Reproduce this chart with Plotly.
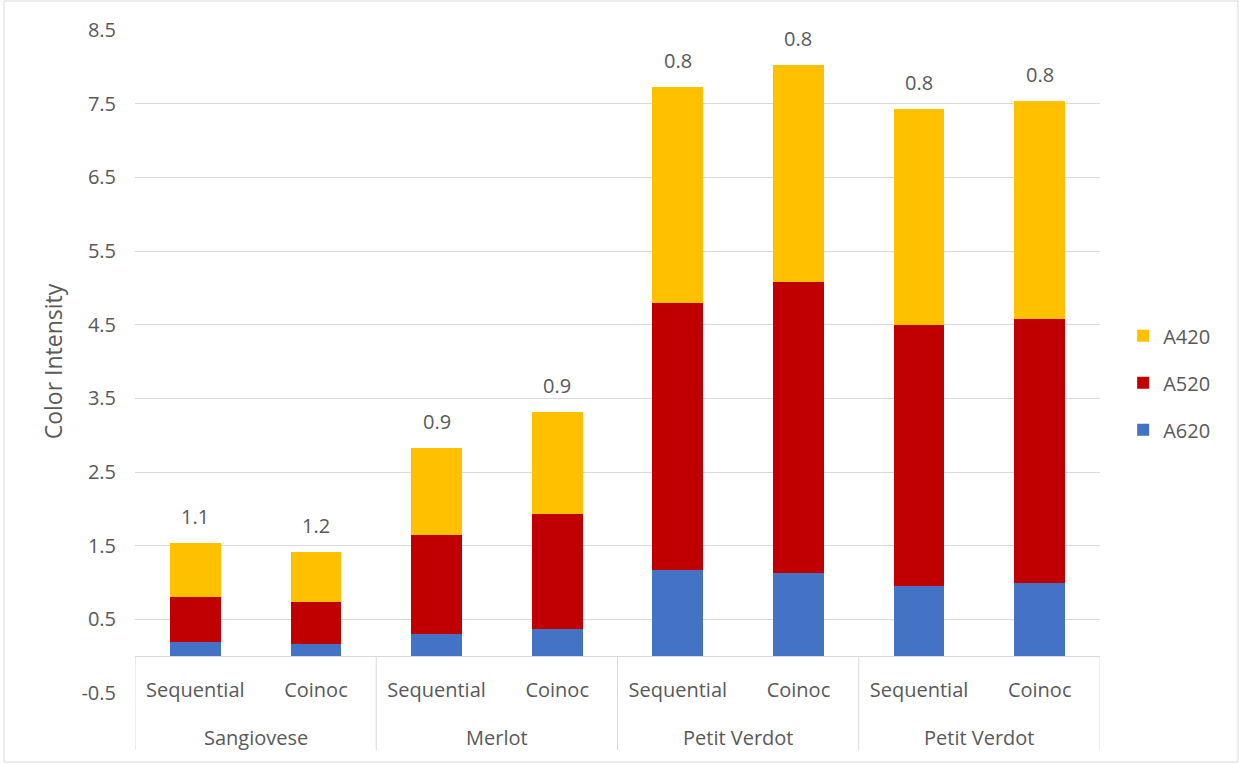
import plotly.graph_objects as go

# Wine varieties and vinification protocols
varieties = ["Sangiovese", "Sangiovese", "Merlot", "Merlot",
             "Petit Verdot", "Petit Verdot", "Petit Verdot", "Petit Verdot"]
protocols = ["Sequential", "Coinoc", "Sequential", "Coinoc",
             "Sequential", "Coinoc", "Sequential", "Coinoc"]
# Group spans along the category axis (variety label, first index, last index)
groups = [("Sangiovese", 0, 1), ("Merlot", 2, 3),
          ("Petit Verdot", 4, 5), ("Petit Verdot", 6, 7)]

# Absorbance components (stacked)
a620 = [0.19, 0.16, 0.30, 0.37, 1.17, 1.13, 0.95, 0.99]
a520 = [0.61, 0.57, 1.34, 1.56, 3.62, 3.95, 3.55, 3.59]
a420 = [0.73, 0.69, 1.19, 1.38, 2.94, 2.94, 2.93, 2.96]

# Hue values printed above each column
hue_labels = ["1.1", "1.2", "0.9", "0.9", "0.8", "0.8", "0.8", "0.8"]

y_ticks = [-0.5, 0.5, 1.5, 2.5, 3.5, 4.5, 5.5, 6.5, 7.5, 8.5]

TEXT = "#595959"
GRID = "#D9D9D9"
FONT = "Open Sans"

xpos = list(range(len(protocols)))
fig = go.Figure()
series = [("A620", a620, "#4472C4", 3),
          ("A520", a520, "#C00000", 2),
          ("A420", a420, "#FFC000", 1)]
for name, vals, color, rank in series:
    fig.add_trace(go.Bar(x=xpos, y=vals, name=name, legendgroup=name,
                         legendrank=rank,
                         marker=dict(color=color, line=dict(width=0))))

totals = [a + b + c for a, b, c in zip(a620, a520, a420)]
for i, (tot, lab) in enumerate(zip(totals, hue_labels)):
    fig.add_annotation(x=i, y=tot, text=lab, showarrow=False,
                       xref="x", yref="y", yanchor="bottom", yshift=11,
                       font=dict(family=FONT, size=20, color=TEXT))

y_lo, y_hi = y_ticks[0], y_ticks[-1]
zero_frac = (0 - y_lo) / (y_hi - y_lo)   # paper height of the category axis line
plot_h = 663

# Variety labels under the protocol labels, with separators between groups
shapes = []
for name, first, last in groups:
    fig.add_annotation(x=(first + last) / 2, y=-44 / plot_h, text=name,
                       showarrow=False, xref="x", yref="paper",
                       yanchor="middle",
                       font=dict(family=FONT, size=20, color=TEXT))
bounds = sorted({g[1] - 0.5 for g in groups} | {g[2] + 0.5 for g in groups})
for b in bounds:
    shapes.append(dict(type="line", xref="x", yref="paper",
                       x0=b, x1=b, y0=zero_frac, y1=-57 / plot_h,
                       line=dict(color=GRID, width=1)))

# Chart-area frame
shapes.append(dict(type="rect", xref="paper", yref="paper",
                   x0=(4 - 135) / 965, x1=(1238 - 135) / 965,
                   y0=(693 - 762) / plot_h, y1=(693 - 1) / plot_h,
                   line=dict(color=GRID, width=1), fillcolor="rgba(0,0,0,0)",
                   layer="below"))

fig.update_layout(
    width=1239, height=763,
    margin=dict(l=135, r=139, t=30, b=70),
    paper_bgcolor="white", plot_bgcolor="white",
    barmode="stack", bargap=0.58,
    font=dict(family=FONT, size=20, color=TEXT),
    legend=dict(x=1.024, xanchor="left", y=0.468, yanchor="middle",
                traceorder="grouped", tracegroupgap=18,
                font=dict(family=FONT, size=20, color=TEXT),
                bgcolor="rgba(0,0,0,0)"),
    xaxis=dict(range=[-0.5, len(protocols) - 0.5], anchor="free",
               position=zero_frac, tickvals=xpos, ticktext=protocols,
               showline=True, linecolor=GRID, linewidth=1,
               showgrid=False, zeroline=False, ticks="",
               ticklabelstandoff=16,
               tickfont=dict(family=FONT, size=20, color=TEXT)),
    yaxis=dict(range=[y_lo, y_hi], tickvals=y_ticks,
               ticktext=[f"{v:g}" for v in y_ticks],
               showgrid=True, gridcolor=GRID, gridwidth=1,
               zeroline=False, showline=False, ticks="",
               ticklabelstandoff=18,
               title=dict(text="Color Intensity", standoff=12,
                          font=dict(family=FONT, size=23, color=TEXT)),
               tickfont=dict(family=FONT, size=20, color=TEXT)),
    shapes=shapes,
)

fig.write_html("out.html")
